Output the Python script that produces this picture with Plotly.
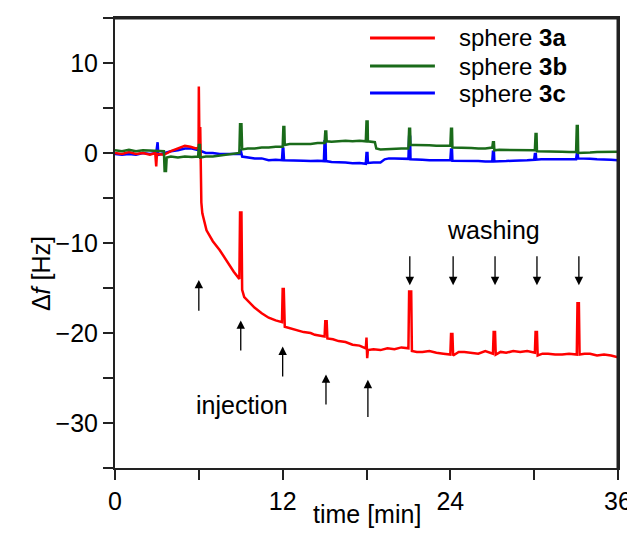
import plotly.graph_objects as go

# ---------------- data ----------------
time_3a = [0, 0.5, 1.0, 1.5, 2.0, 2.5, 2.88, 2.9, 2.95, 3.0, 3.5, 4.0, 4.5, 5.0, 5.4, 5.8, 5.98,
           6.0, 6.05, 6.1, 6.18, 6.25, 6.55, 7.0, 7.5, 8.0, 8.5, 8.9, 8.95, 9.05, 9.1, 9.25, 9.6,
           10.0, 10.5, 11.0, 11.5, 11.95, 12.0, 12.08, 12.15, 12.6, 13.0, 13.5, 14.0, 14.3, 15.0,
           15.05, 15.15, 15.2, 15.6, 16.0, 16.5, 17.0, 17.5, 17.95, 18.0, 18.05, 18.1, 18.5, 19.0,
           19.5, 20.0, 20.5, 21.0, 21.05, 21.2, 21.25, 21.6, 22.0, 22.5, 23.0, 23.5, 24.0, 24.05,
           24.15, 24.2, 24.6, 25.0, 25.5, 26.0, 26.5, 27.05, 27.1, 27.2, 27.25, 27.6, 28.0, 28.5,
           29.0, 29.5, 30.05, 30.1, 30.2, 30.25, 30.6, 31.0, 31.5, 32.0, 32.5, 33.05, 33.1, 33.2,
           33.25, 33.6, 34.0, 34.5, 35.0, 35.5, 36.0]
df_3a = [0.0, -0.1, 0.1, -0.1, 0.0, -0.2, 0.0, -1.5, -1.5, -0.1, -0.2, 0.2, 0.5, 0.8, 0.7, 0.5, 0.6,
         7.4, 0.0, 2.9, -5.5, -6.7, -8.6, -9.8, -10.8, -12.0, -13.2, -14.0, -6.6, -6.6, -15.2, -16.0, -16.6,
         -17.2, -17.8, -18.3, -18.6, -18.8, -15.1, -15.1, -19.3, -19.5, -19.6, -19.9, -20.0, -20.2, -20.4,
         -18.7, -18.7, -20.6, -20.7, -20.9, -21.0, -21.3, -21.4, -21.7, -20.5, -22.8, -21.9, -21.8, -21.9,
         -21.7, -21.8, -21.6, -21.7, -15.4, -15.4, -22.0, -22.1, -22.1, -22.0, -22.2, -22.3, -22.4, -20.1,
         -20.1, -22.5, -22.1, -22.1, -22.2, -22.3, -22.0, -22.3, -19.9, -19.9, -22.4, -22.1, -22.2, -22.0,
         -22.1, -22.0, -22.2, -19.9, -19.9, -22.5, -22.3, -22.3, -22.4, -22.4, -22.3, -22.4, -16.7, -16.7,
         -22.4, -22.3, -22.3, -22.5, -22.4, -22.5, -22.7]

time_3b = [0, 0.5, 1.0, 1.5, 2.0, 2.5, 3.0, 3.5, 3.55, 3.65, 3.7, 4.0, 4.5, 5.0, 5.5, 5.95, 6.0,
           6.08, 6.1, 6.5, 7.0, 7.5, 8.0, 8.5, 8.9, 8.95, 9.05, 9.1, 9.5, 10.0, 10.5, 11.0, 11.5,
           12.0, 12.05, 12.12, 12.15, 12.5, 13.0, 13.5, 14.0, 14.5, 15.0, 15.05, 15.12, 15.15, 15.5,
           16.0, 16.5, 17.0, 17.5, 17.95, 18.0, 18.08, 18.1, 18.6, 18.7, 19.0, 19.5, 20.0, 20.5,
           21.0, 21.05, 21.12, 21.15, 21.5, 22.0, 22.5, 23.0, 23.5, 24.0, 24.05, 24.12, 24.15, 24.5,
           25.0, 25.5, 26.0, 26.5, 27.0, 27.05, 27.12, 27.15, 27.5, 28.0, 28.5, 29.0, 29.5, 30.05,
           30.1, 30.17, 30.2, 30.5, 31.0, 31.5, 32.0, 32.5, 33.0, 33.05, 33.12, 33.15, 33.5, 34.0,
           34.5, 35.0, 35.5, 36.0]
df_3b = [0.3, 0.2, 0.35, 0.2, 0.3, 0.25, 0.2, 0.2, -2.0, -2.0, -0.5, -0.4, -0.5, -0.4, -0.45, -0.4, 0.9,
         0.9, -0.5, -0.4, -0.4, -0.3, -0.2, -0.1, 0.0, 3.2, 3.2, 0.4, 0.5, 0.5, 0.6, 0.6, 0.7,
         0.7, 2.9, 2.9, 0.9, 1.0, 1.0, 0.95, 1.0, 1.1, 1.1, 2.4, 2.4, 1.3, 1.25, 1.3, 1.35, 1.3, 1.35,
         1.3, 3.5, 3.5, 1.3, 1.2, 0.5, 0.4, 0.45, 0.5, 0.5, 0.5, 2.7, 2.7, 0.9, 0.9, 0.9, 0.85, 0.8,
         0.8, 0.8, 2.7, 2.7, 0.6, 0.6, 0.6, 0.55, 0.5, 0.5, 0.6, 1.2, 1.2, 0.3, 0.35, 0.35, 0.3, 0.3,
         0.3, 0.3, 2.1, 2.1, 0.2, 0.2, 0.2, 0.15, 0.15, 0.1, 0.1, 3.0, 3.0, 0.0, 0.05, 0.05, 0.1, 0.1,
         0.1, 0.15]

time_3c = [0, 0.5, 1.0, 1.5, 2.0, 2.5, 2.95, 3.0, 3.05, 3.1, 3.5, 4.0, 4.5, 5.0, 5.5, 6.0, 6.5,
           7.0, 7.5, 8.0, 8.5, 8.9, 8.95, 9.0, 9.1, 9.5, 10.0, 10.5, 11.0, 11.5, 11.95, 12.0, 12.05,
           12.1, 12.5, 13.0, 13.5, 14.0, 14.5, 14.95, 15.0, 15.07, 15.1, 15.5, 16.0, 16.5, 17.0, 17.5,
           17.95, 18.0, 18.07, 18.1, 18.5, 19.0, 19.3, 19.6, 20.0, 20.5, 21.0, 21.05, 21.12, 21.15, 21.5,
           22.0, 22.5, 23.0, 23.5, 24.0, 24.05, 24.12, 24.15, 24.5, 25.0, 25.5, 26.0, 26.5, 27.0, 27.05,
           27.12, 27.15, 27.5, 28.0, 28.5, 29.0, 29.5, 30.0, 30.05, 30.12, 30.15, 30.5, 31.0, 31.5, 32.0,
           32.5, 33.0, 33.05, 33.12, 33.15, 33.5, 34.0, 34.5, 35.0, 35.5, 36.0]
df_3c = [-0.1, -0.2, -0.1, -0.2, 0.0, -0.1, 0.0, 1.2, 1.2, -0.2, 0.0, 0.2, 0.3, 0.5, 0.5, 0.3, 0.0,
         0.0, -0.1, -0.1, -0.1, -0.1, 0.3, 0.3, -0.4, -0.5, -0.6, -0.6, -0.8, -0.75, -0.8, 0.5, 0.5,
         -0.8, -0.8, -0.8, -0.85, -0.9, -0.85, -0.9, 1.3, 1.3, -0.9, -1.0, -1.0, -1.05, -1.15, -1.1,
         -1.2, 0.0, 0.0, -1.1, -1.05, -1.05, -0.7, -0.6, -0.6, -0.65, -0.65, 1.8, 1.8, -0.7, -0.7,
         -0.75, -0.8, -0.8, -0.75, -0.8, 0.4, 0.4, -0.85, -0.85, -0.85, -0.9, -0.9, -0.95, -0.95, 0.15,
         0.15, -0.95, -0.9, -0.9, -0.85, -0.85, -0.8, -0.75, -0.1, -0.1, -0.75, -0.7, -0.7, -0.75, -0.75,
         -0.7, -0.7, -0.1, -0.1, -0.6, -0.65, -0.65, -0.7, -0.7, -0.75, -0.8]

series_names = ["sphere <b>3a</b>", "sphere <b>3b</b>", "sphere <b>3c</b>"]
series_colors = ["#ff0000", "#1a6b1a", "#0000ff"]

injection_times = [6.0, 9.0, 12.0, 15.1, 18.1]
injection_tip = [-14.1, -18.6, -21.5, -24.6, -25.2]
injection_tail = [-17.7, -22.1, -25.0, -28.1, -29.5]

washing_times = [21.1, 24.2, 27.2, 30.2, 33.2]
washing_tip = [-14.7, -14.7, -14.7, -14.7, -14.7]
washing_tail = [-11.3, -11.3, -11.3, -11.3, -11.3]

x_tickvals = [0, 6, 12, 18, 24, 30, 36]
x_ticktext = ["0", "", "12", "", "24", "", "36"]
y_tickvals = [-35, -30, -25, -20, -15, -10, -5, 0, 5, 10, 15]
y_ticktext = ["", "\u221230", "", "\u221220", "", "\u221210", "", "0", "", "10", ""]

# ---------------- figure ----------------
FONT = "Liberation Sans, Arial, Helvetica, sans-serif"
fig = go.Figure()

traces = [(time_3c, df_3c, 2), (time_3a, df_3a, 0), (time_3b, df_3b, 1)]
for t, v, i in traces:
    fig.add_trace(go.Scatter(x=t, y=v, mode="lines", name=series_names[i],
                             line=dict(color=series_colors[i], width=2.5),
                             showlegend=False))

# frame: top and right edges drawn as separate lines, just inside the plot edge
fig.add_shape(type="line", xref="paper", yref="paper", x0=0, x1=1, y0=0.999, y1=0.999,
              line=dict(color="#222222", width=2), layer="above")
fig.add_shape(type="line", xref="paper", yref="paper", x0=0.999, x1=0.999, y0=0, y1=1,
              line=dict(color="#222222", width=2), layer="above")

# manual legend (long line samples like the reference)
legend_y = [0.9556, 0.8933, 0.8333]
for i in range(3):
    fig.add_shape(type="line", xref="paper", yref="paper",
                  x0=0.507, x1=0.636, y0=legend_y[i], y1=legend_y[i],
                  line=dict(color=series_colors[i], width=3))
    fig.add_annotation(xref="paper", yref="paper", x=0.68, y=legend_y[i],
                       text=series_names[i], showarrow=False, xanchor="left",
                       yanchor="middle", font=dict(size=24, color="black", family=FONT))

for t, tip, tail in zip(injection_times, injection_tip, injection_tail):
    fig.add_annotation(x=t, y=tip, ax=t, ay=tail, xref="x", yref="y", axref="x", ayref="y",
                       showarrow=True, arrowhead=2, arrowsize=1.3, arrowwidth=1.3,
                       arrowcolor="black", text="", standoff=0)
for t, tip, tail in zip(washing_times, washing_tip, washing_tail):
    fig.add_annotation(x=t, y=tip, ax=t, ay=tail, xref="x", yref="y", axref="x", ayref="y",
                       showarrow=True, arrowhead=2, arrowsize=1.3, arrowwidth=1.3,
                       arrowcolor="black", text="", standoff=0)

fig.add_annotation(x=9.07, y=-28.0, text="injection", showarrow=False,
                   font=dict(size=25, color="black", family=FONT))
fig.add_annotation(x=27.1, y=-8.6, text="washing", showarrow=False,
                   font=dict(size=25, color="black", family=FONT))

# axis titles placed like the reference
fig.add_annotation(xref="paper", yref="paper", x=-0.179, y=0.433, textangle=-90,
                   text="\u0394<i>f</i> [Hz]", showarrow=False,
                   font=dict(size=25, color="black", family=FONT))
fig.add_annotation(xref="paper", yref="paper", x=0.5, y=-0.102, yanchor="middle",
                   text="time [min]", showarrow=False,
                   font=dict(size=25, color="black", family=FONT))

axis_common = dict(showgrid=False, zeroline=False, showline=True, linecolor="#222222",
                   linewidth=2, mirror=True, ticks="outside", ticklen=10, tickwidth=2,
                   tickcolor="#222222", automargin=False, ticklabeloverflow="allow",
                   tickfont=dict(size=25, color="black", family=FONT))

fig.update_xaxes(range=[0, 36], tickmode="array", tickvals=x_tickvals, ticktext=x_ticktext,
                 **axis_common)
fig.update_yaxes(range=[-35, 15], tickmode="array", tickvals=y_tickvals, ticktext=y_ticktext,
                 **axis_common)

# the page body has an 8 px margin, so the figure is sized/offset to compensate
fig.update_layout(template="none", width=640, height=535,
                  margin=dict(l=107, r=30, t=10, b=75),
                  plot_bgcolor="white", paper_bgcolor="white",
                  font=dict(family=FONT, size=25, color="black"))

fig.write_html("out.html")
